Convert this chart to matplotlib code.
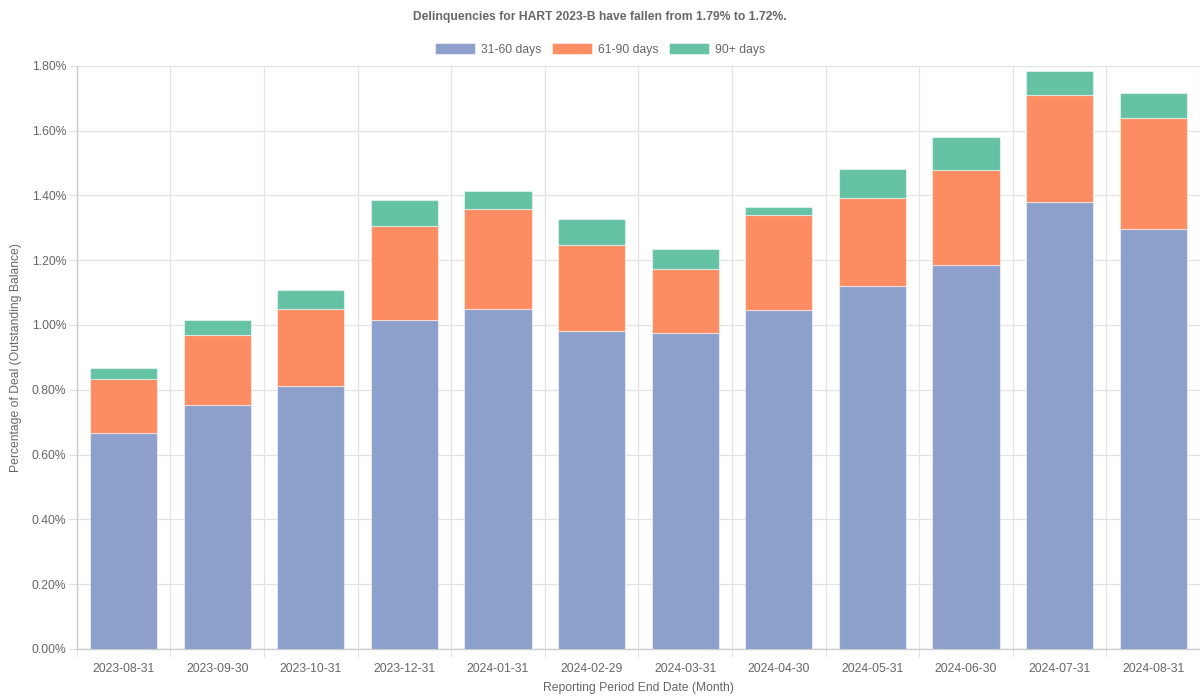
import matplotlib
matplotlib.use("Agg")
import matplotlib.pyplot as plt
import numpy as np
from matplotlib.ticker import FuncFormatter, FixedLocator

plt.rcParams['font.family'] = ['Liberation Sans', 'DejaVu Sans']

dates = ["2023-08-31", "2023-09-30", "2023-10-31", "2023-12-31", "2024-01-31",
         "2024-02-29", "2024-03-31", "2024-04-30", "2024-05-31", "2024-06-30",
         "2024-07-31", "2024-08-31"]
totals_31_60 = [0.667, 0.753, 0.812, 1.016, 1.048, 0.980, 0.975, 1.046, 1.120, 1.185, 1.379, 1.296]
cum_61_90 = [0.832, 0.969, 1.048, 1.307, 1.357, 1.246, 1.173, 1.338, 1.393, 1.478, 1.710, 1.638]
cum_90p = [0.866, 1.016, 1.108, 1.385, 1.415, 1.328, 1.234, 1.365, 1.480, 1.580, 1.785, 1.717]

d31_60 = np.array(totals_31_60)
d61_90 = np.array(cum_61_90) - d31_60
d90p = np.array(cum_90p) - np.array(cum_61_90)

series_names = ["31-60 days", "61-90 days", "90+ days"]
colors = ["#8da0cb", "#fc8d62", "#66c2a5"]

FS = 8.7
fig = plt.figure(figsize=(12, 7), dpi=100)
ax = fig.add_axes([0.064, 0.073, 0.936, 0.833])

x = np.arange(len(dates))
w = 0.72
bottom = np.zeros(len(dates))
for vals, name, c in zip([d31_60, d61_90, d90p], series_names, colors):
    ax.bar(x, vals, w, bottom=bottom, color=c, label=name,
           edgecolor=(1, 1, 1, 0.5), linewidth=0.8, zorder=3)
    bottom = bottom + vals

ax.set_xlim(-0.5, len(dates) - 0.5)
ax.set_ylim(0, 1.8)
ax.set_yticks(np.arange(0, 1.81, 0.2))
ax.yaxis.set_major_formatter(FuncFormatter(lambda v, p: f"{v:.2f}%"))
ax.set_xticks(x)
ax.set_xticklabels(dates)
ax.xaxis.set_minor_locator(FixedLocator(np.arange(-0.5, len(dates), 1.0)))

ax.tick_params(axis='x', which='major', length=0, pad=10, labelsize=FS, colors='#666666')
ax.tick_params(axis='x', which='minor', length=6, color='#dddddd')
ax.tick_params(axis='y', which='major', length=6, color='#dddddd', pad=1.5, labelsize=FS, labelcolor='#666666')

ax.grid(axis='y', which='major', color='#e3e3e3', linewidth=0.9, zorder=0)
ax.grid(axis='x', which='minor', color='#e3e3e3', linewidth=0.9, zorder=0)
ax.set_axisbelow(True)

for s in ['top', 'right']:
    ax.spines[s].set_visible(False)
for s in ['left', 'bottom']:
    ax.spines[s].set_color('#cccccc')
    ax.spines[s].set_linewidth(1.0)

ax.set_ylabel("Percentage of Deal (Outstanding Balance)", fontsize=FS, color='#666666', labelpad=7)
ax.set_xlabel("Reporting Period End Date (Month)", fontsize=FS, color='#666666', labelpad=5)

fig.text(0.5, 0.976, "Delinquencies for HART 2023-B have fallen from 1.79% to 1.72%.",
         ha='center', va='center', fontsize=FS, fontweight='bold', color='#666666')

leg = fig.legend(loc='center', bbox_to_anchor=(0.5, 0.929), ncol=3, frameon=False,
                 fontsize=FS, handlelength=3.3, handleheight=1.0, columnspacing=0.9,
                 handletextpad=0.5)
for t in leg.get_texts():
    t.set_color('#666666')

fig.savefig("out.png", dpi=100)
